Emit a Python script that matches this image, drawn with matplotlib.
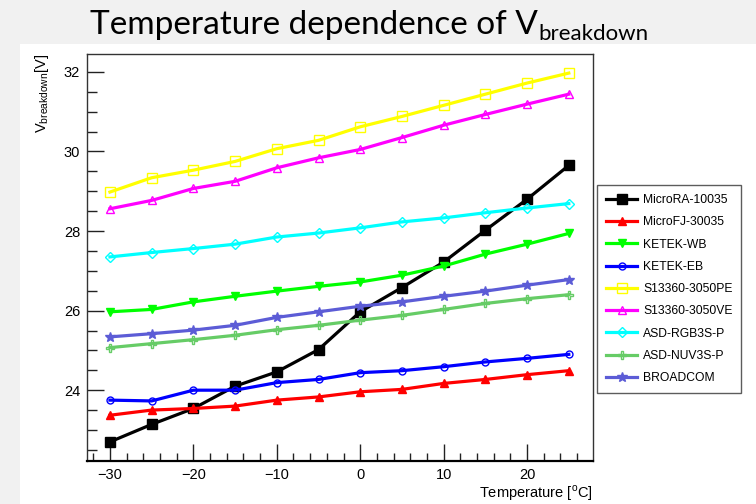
import matplotlib
matplotlib.use("Agg")
import matplotlib.pyplot as plt
from matplotlib.ticker import MultipleLocator

temps = [-30, -25, -20, -15, -10, -5, 0, 5, 10, 15, 20, 25]
names = ["MicroRA-10035", "MicroFJ-30035", "KETEK-WB", "KETEK-EB",
         "S13360-3050PE", "S13360-3050VE", "ASD-RGB3S-P", "ASD-NUV3S-P", "BROADCOM"]
microra = [22.70, 23.14, 23.54, 24.10, 24.46, 25.02, 25.97, 26.58, 27.22, 28.02, 28.80, 29.65]
microfj = [23.37, 23.50, 23.54, 23.60, 23.75, 23.83, 23.96, 24.02, 24.17, 24.27, 24.39, 24.49]
ketek_wb = [25.97, 26.03, 26.22, 26.36, 26.49, 26.61, 26.72, 26.89, 27.12, 27.42, 27.67, 27.94]
ketek_eb = [23.75, 23.73, 24.00, 24.00, 24.19, 24.27, 24.44, 24.49, 24.59, 24.71, 24.80, 24.90]
s13360_pe = [28.98, 29.34, 29.53, 29.75, 30.07, 30.28, 30.62, 30.88, 31.16, 31.44, 31.72, 31.97]
s13360_ve = [28.56, 28.77, 29.07, 29.25, 29.59, 29.84, 30.05, 30.35, 30.66, 30.93, 31.19, 31.44]
asd_rgb = [27.35, 27.46, 27.56, 27.67, 27.85, 27.95, 28.08, 28.23, 28.33, 28.46, 28.58, 28.69]
asd_nuv = [25.07, 25.17, 25.27, 25.38, 25.52, 25.63, 25.76, 25.88, 26.03, 26.18, 26.30, 26.40]
broadcom = [25.34, 25.42, 25.51, 25.63, 25.83, 25.97, 26.11, 26.22, 26.36, 26.49, 26.64, 26.78]
series = [microra, microfj, ketek_wb, ketek_eb, s13360_pe, s13360_ve, asd_rgb, asd_nuv, broadcom]

colors = ["#000000", "#ff0000", "#00ff00", "#0000ff", "#ffff00", "#ff00ff",
          "#00ffff", "#66cc66", "#5c5cd6"]
markers = ["s", "^", "v", "o", "s", "^", "D", "P", "*"]
filled = [True, True, True, False, False, False, False, False, True]
msizes = [6.5, 6, 6, 5, 6.5, 6, 5, 5.5, 7.5]

plt.rcParams['font.family'] = ['Liberation Sans', 'DejaVu Sans']
plt.rcParams['mathtext.fontset'] = 'custom'
plt.rcParams['mathtext.rm'] = 'Liberation Sans'

fig = plt.figure(figsize=(7.56, 5.04), dpi=100, facecolor="#f1f1f1")
# white slide content area
bg = fig.add_axes([20/756, 0, 1 - 20/756, (504-44)/504], zorder=-10)
bg.axis("off")
bg.add_patch(plt.Rectangle((0, 0), 1, 1, transform=bg.transAxes,
                           facecolor="white", edgecolor="none"))

ax = fig.add_axes([87/756, 1 - 461/504, (593-87)/756, (461-54)/504], zorder=1)
for y, c, m, f, ms, n in zip(series, colors, markers, filled, msizes, names):
    ax.plot(temps, y, color=c, lw=2.3, marker=m, ms=ms,
            markerfacecolor=c if f else "none", markeredgecolor=c,
            markeredgewidth=1.0, label=n)

ax.set_xlim(-32.75, 27.9)
ax.set_ylim(22.22, 32.45)
ax.xaxis.set_major_locator(MultipleLocator(10))
ax.xaxis.set_minor_locator(MultipleLocator(2))
ax.yaxis.set_major_locator(MultipleLocator(2))
ax.yaxis.set_minor_locator(MultipleLocator(0.5))
ax.tick_params(which='both', direction='in', top=False, right=False,
               labelsize=10.5, width=1, color='#222222')
ax.tick_params(which='major', length=12, pad=5)
ax.tick_params(which='minor', length=6)
ax.tick_params(axis='y', which='minor', length=7)
for sp in ax.spines.values():
    sp.set_linewidth(1.0)
    sp.set_color('#333333')
ax.spines['bottom'].set_linewidth(1.6)
ax.spines['bottom'].set_color('#000000')

ax.set_xlabel(r"Temperature [$^{\mathrm{o}}$C]", fontsize=10.5, loc='right', labelpad=1)
ax.set_ylabel(r"V$_{\mathrm{breakdown}}$[V]", fontsize=10.5, loc='top', labelpad=9)

leg = ax.legend(loc='upper left', bbox_to_anchor=(597/756, 1 - 185/504),
                bbox_transform=fig.transFigure, frameon=True, fancybox=False,
                fontsize=8.7, handlelength=2.6, labelspacing=0.85,
                borderpad=0.75, borderaxespad=0, handletextpad=0.45)
leg.get_frame().set_edgecolor('#333333')
leg.get_frame().set_linewidth(1.0)

# title: main part plus manual subscript in the same font
t1 = fig.text(90/756, 1 - 34/504, "Temperature dependence of V",
              fontsize=24, family=['Lato', 'DejaVu Sans'], va='baseline', ha='left')
fig.canvas.draw()
bb = t1.get_window_extent()
fig.text(bb.x1 / 756 + 1/756, 1 - 40/504, "breakdown",
         fontsize=16, family=['Lato', 'DejaVu Sans'], va='baseline', ha='left')

fig.savefig("out.png", dpi=100, facecolor=fig.get_facecolor())
